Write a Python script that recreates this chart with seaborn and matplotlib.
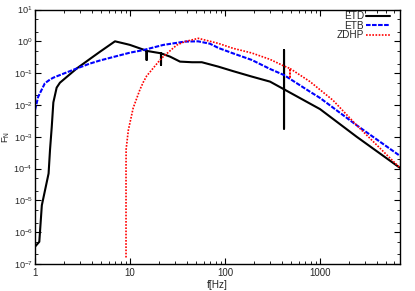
import matplotlib
matplotlib.use("Agg")
import matplotlib.pyplot as plt
import matplotlib.ticker as mticker
import numpy as np
import pandas as pd
import seaborn as sns

# ---- data ----
etd_x = [1.0, 1.11, 1.18, 1.39, 1.44, 1.5, 1.56, 1.69, 1.83, 2.75, 3.79, 4.83, 6.95, 9.2, 10,
         13.8, 14.96, 14.96, 14.96, 21.2, 21.2, 21.2, 26.4, 33.6, 45, 57, 85, 121, 191, 298,
         418, 418, 418, 418, 785, 1000, 2430, 6950]
etd_y = [3.5e-7, 5e-7, 7e-6, 7e-5, 4e-4, 2e-3, 1.2e-2, 0.035, 0.05, 0.14, 0.28, 0.47, 1.0, 0.82, 0.77,
         0.55, 0.5, 0.26, 0.5, 0.42, 0.18, 0.42, 0.33, 0.23, 0.22, 0.22, 0.16, 0.116, 0.078, 0.054,
         0.031, 0.53, 0.0018, 0.031, 0.011, 0.0074, 0.001, 1.05e-4]

etb_x = [1.0, 1.08, 1.27, 1.44, 1.56, 1.83, 2.75, 3.79, 4.83, 10, 13.8, 22.4, 37.9, 52, 69.5,
         85, 121, 191, 298, 418, 785, 1000, 2430, 6950]
etb_y = [0.0069, 0.018, 0.048, 0.063, 0.072, 0.087, 0.14, 0.2, 0.25, 0.44, 0.53, 0.77, 0.98, 1.0, 0.84,
         0.62, 0.42, 0.26, 0.135, 0.087, 0.026, 0.0166, 0.0023, 2.5e-4]

zdhp_x = [9.08, 9.08, 9.1, 9.6, 10.8, 12.7, 13.8, 14.96, 20.7, 22.4, 31, 37.9, 52.4, 85, 122,
          191, 298, 418, 483, 483, 483, 785, 1370, 2430, 6950]
zdhp_y = [1.6e-7, 1e-4, 4e-4, 1.6e-3, 8e-3, 0.03, 0.052, 0.081, 0.26, 0.33, 0.76, 0.98, 1.24, 0.86, 0.6,
          0.43, 0.27, 0.167, 0.14, 0.069, 0.14, 0.054, 0.014, 0.0023, 1.05e-4]

series_names = ["ETD", "ETB", "ZDHP"]
x_tick_vals = [1, 10, 100, 1000]
x_tick_labels = ["1", "10", "100", "1000"]
y_exps = list(range(-7, 2))

# ---- styling ----
sns.set_style("ticks")
plt.rcParams["font.family"] = ["Liberation Sans", "DejaVu Sans"]
plt.rcParams["mathtext.fontset"] = "custom"
plt.rcParams["mathtext.rm"] = "Liberation Sans"
plt.rcParams["mathtext.it"] = "Liberation Sans:italic"
plt.rcParams["mathtext.bf"] = "Liberation Sans:bold"

fig = plt.figure(figsize=(4.15, 2.91), dpi=100)
ax = fig.add_axes([35 / 415, 1 - 264 / 291, 365 / 415, 254.5 / 291])

styles = {
    "ETD": dict(color="black", lw=1.5, linestyle="-"),
    "ETB": dict(color="#0000ff", lw=1.5, linestyle=(0, (2.2, 0.7))),
    "ZDHP": dict(color="#ff0000", lw=1.2, linestyle=(0, (1.0, 0.9))),
}
data = {"ETD": (etd_x, etd_y), "ETB": (etb_x, etb_y), "ZDHP": (zdhp_x, zdhp_y)}
for name in series_names:
    xs, ys = data[name]
    df = pd.DataFrame({"x": xs, "y": ys})
    sns.lineplot(data=df, x="x", y="y", sort=False, estimator=None, ax=ax,
                 label=name, **styles[name])

ax.set_xscale("log")
ax.set_yscale("log")
ax.set_xlim(1, 6950)
ax.set_ylim(1e-7, 10)

ax.xaxis.set_major_locator(mticker.FixedLocator(x_tick_vals))
ax.xaxis.set_major_formatter(mticker.FixedFormatter(x_tick_labels))
ax.xaxis.set_minor_locator(mticker.LogLocator(base=10, subs=np.arange(2, 10), numticks=20))
ax.xaxis.set_minor_formatter(mticker.NullFormatter())

ax.yaxis.set_major_locator(mticker.FixedLocator([10.0 ** e for e in y_exps]))
ax.yaxis.set_major_formatter(mticker.FixedFormatter([r"$10^{%d}$" % e for e in y_exps]))
ax.yaxis.set_minor_locator(mticker.LogLocator(base=10, subs=(2, 5), numticks=20))
ax.yaxis.set_minor_formatter(mticker.NullFormatter())

ax.tick_params(which="both", direction="in", top=True, right=True, labelsize=7.0, pad=3,
               color="black")
ax.tick_params(axis="y", which="major", pad=1.5, labelsize=6.6)
ax.tick_params(which="major", length=4, width=0.8)
ax.tick_params(which="minor", length=2.2, width=0.6)
for s in ax.spines.values():
    s.set_color("black")
    s.set_linewidth(1.0)

ax.set_xlabel("f[Hz]", fontsize=7.2, labelpad=1)
ax.set_ylabel(r"F$_\mathregular{N}$", fontsize=6.8)
ax.yaxis.set_label_coords(-0.0635, 0.5)

leg = ax.legend(loc="upper right", bbox_to_anchor=(0.973, 0.995), frameon=False,
                markerfirst=False, fontsize=7.2, handlelength=2.4, handletextpad=0.15,
                labelspacing=-0.05, borderaxespad=0.0, borderpad=0.05)

fig.savefig("out.png", dpi=100)
